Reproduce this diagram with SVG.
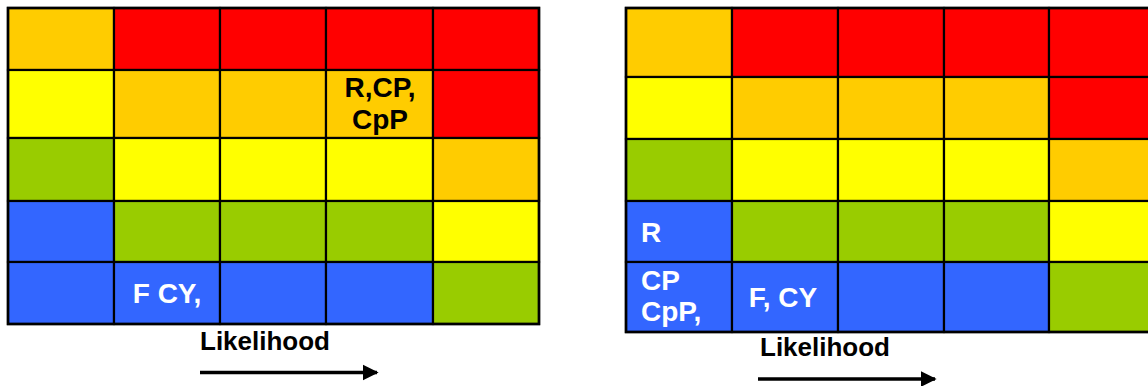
<svg xmlns="http://www.w3.org/2000/svg" width="1148" height="386" viewBox="0 0 1148 386">
<defs>
<style>
.c{stroke:#000;stroke-width:2.2}
.o{fill:#FFCC00}.r{fill:#FF0000}.y{fill:#FFFF00}.g{fill:#99CC00}.b{fill:#3366FF}
.t{font-family:"Liberation Sans",Arial,sans-serif;font-weight:bold;font-size:28px}
.k{fill:#000}.w{fill:#fff}
.lbl{font-family:"Liberation Sans",Arial,sans-serif;font-weight:bold;font-size:26px;fill:#000}
</style>
<marker id="ah" viewBox="0 0 10 10" refX="9" refY="5" markerWidth="4.6" markerHeight="4.6" markerUnits="strokeWidth" orient="auto">
<path d="M0,0 L10,5 L0,10 z" fill="#000"/>
</marker>
</defs>
<rect width="1148" height="386" fill="#fff"/>
<g id="left-matrix">
<g id="L-r1c1"><rect class="c o" x="8" y="8" width="106" height="62"/></g>
<g id="L-r1c2"><rect class="c r" x="114" y="8" width="106" height="62"/></g>
<g id="L-r1c3"><rect class="c r" x="220" y="8" width="106" height="62"/></g>
<g id="L-r1c4"><rect class="c r" x="326" y="8" width="107" height="62"/></g>
<g id="L-r1c5"><rect class="c r" x="433" y="8" width="106" height="62"/></g>
<g id="L-r2c1"><rect class="c y" x="8" y="70" width="106" height="68"/></g>
<g id="L-r2c2"><rect class="c o" x="114" y="70" width="106" height="68"/></g>
<g id="L-r2c3"><rect class="c o" x="220" y="70" width="106" height="68"/></g>
<g id="L-r2c4"><rect class="c o" x="326" y="70" width="107" height="68"/>
<text class="t k" x="380" y="97" text-anchor="middle">R,CP,</text>
<text class="t k" x="380" y="129" text-anchor="middle">CpP</text></g>
<g id="L-r2c5"><rect class="c r" x="433" y="70" width="106" height="68"/></g>
<g id="L-r3c1"><rect class="c g" x="8" y="138" width="106" height="63"/></g>
<g id="L-r3c2"><rect class="c y" x="114" y="138" width="106" height="63"/></g>
<g id="L-r3c3"><rect class="c y" x="220" y="138" width="106" height="63"/></g>
<g id="L-r3c4"><rect class="c y" x="326" y="138" width="107" height="63"/></g>
<g id="L-r3c5"><rect class="c o" x="433" y="138" width="106" height="63"/></g>
<g id="L-r4c1"><rect class="c b" x="8" y="201" width="106" height="61"/></g>
<g id="L-r4c2"><rect class="c g" x="114" y="201" width="106" height="61"/></g>
<g id="L-r4c3"><rect class="c g" x="220" y="201" width="106" height="61"/></g>
<g id="L-r4c4"><rect class="c g" x="326" y="201" width="107" height="61"/></g>
<g id="L-r4c5"><rect class="c y" x="433" y="201" width="106" height="61"/></g>
<g id="L-r5c1"><rect class="c b" x="8" y="262" width="106" height="62"/></g>
<g id="L-r5c2"><rect class="c b" x="114" y="262" width="106" height="62"/>
<text class="t w" x="167" y="303" text-anchor="middle">F CY,</text></g>
<g id="L-r5c3"><rect class="c b" x="220" y="262" width="106" height="62"/></g>
<g id="L-r5c4"><rect class="c b" x="326" y="262" width="107" height="62"/></g>
<g id="L-r5c5"><rect class="c g" x="433" y="262" width="106" height="62"/></g>
<rect x="8" y="8" width="531" height="316" fill="none" stroke="#000" stroke-width="2.6"/>
</g>
<g id="right-matrix">
<g id="R-r1c1"><rect class="c o" x="626" y="8" width="106" height="69"/></g>
<g id="R-r1c2"><rect class="c r" x="732" y="8" width="106" height="69"/></g>
<g id="R-r1c3"><rect class="c r" x="838" y="8" width="106" height="69"/></g>
<g id="R-r1c4"><rect class="c r" x="944" y="8" width="105" height="69"/></g>
<g id="R-r1c5"><rect class="c r" x="1049" y="8" width="106" height="69"/></g>
<g id="R-r2c1"><rect class="c y" x="626" y="77" width="106" height="62"/></g>
<g id="R-r2c2"><rect class="c o" x="732" y="77" width="106" height="62"/></g>
<g id="R-r2c3"><rect class="c o" x="838" y="77" width="106" height="62"/></g>
<g id="R-r2c4"><rect class="c o" x="944" y="77" width="105" height="62"/></g>
<g id="R-r2c5"><rect class="c r" x="1049" y="77" width="106" height="62"/></g>
<g id="R-r3c1"><rect class="c g" x="626" y="139" width="106" height="62"/></g>
<g id="R-r3c2"><rect class="c y" x="732" y="139" width="106" height="62"/></g>
<g id="R-r3c3"><rect class="c y" x="838" y="139" width="106" height="62"/></g>
<g id="R-r3c4"><rect class="c y" x="944" y="139" width="105" height="62"/></g>
<g id="R-r3c5"><rect class="c o" x="1049" y="139" width="106" height="62"/></g>
<g id="R-r4c1"><rect class="c b" x="626" y="201" width="106" height="61"/>
<text class="t w" x="641" y="242">R</text></g>
<g id="R-r4c2"><rect class="c g" x="732" y="201" width="106" height="61"/></g>
<g id="R-r4c3"><rect class="c g" x="838" y="201" width="106" height="61"/></g>
<g id="R-r4c4"><rect class="c g" x="944" y="201" width="105" height="61"/></g>
<g id="R-r4c5"><rect class="c y" x="1049" y="201" width="106" height="61"/></g>
<g id="R-r5c1"><rect class="c b" x="626" y="262" width="106" height="70"/>
<text class="t w" x="641" y="290">CP</text>
<text class="t w" x="641" y="321">CpP,</text></g>
<g id="R-r5c2"><rect class="c b" x="732" y="262" width="106" height="70"/>
<text class="t w" x="783" y="307" text-anchor="middle">F, CY</text></g>
<g id="R-r5c3"><rect class="c b" x="838" y="262" width="106" height="70"/></g>
<g id="R-r5c4"><rect class="c b" x="944" y="262" width="105" height="70"/></g>
<g id="R-r5c5"><rect class="c g" x="1049" y="262" width="106" height="70"/></g>
<rect x="626" y="8" width="529" height="324" fill="none" stroke="#000" stroke-width="2.6"/>
</g>
<g id="label-left"><text class="lbl" x="200" y="350">Likelihood</text></g>
<g id="label-right"><text class="lbl" x="760" y="356">Likelihood</text></g>
<g id="connectors">
<line x1="200" y1="372.5" x2="377" y2="372.5" stroke="#000" stroke-width="3.5" marker-end="url(#ah)"/>
<line x1="758" y1="379" x2="935" y2="379" stroke="#000" stroke-width="3.5" marker-end="url(#ah)"/>
</g>
</svg>
